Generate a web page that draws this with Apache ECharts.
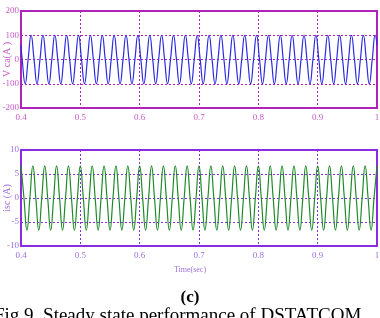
<!DOCTYPE html>
<html>
<head>
<meta charset="utf-8">
<script src="https://cdn.jsdelivr.net/npm/echarts@6/dist/echarts.min.js"></script>
<style>
  html, body { margin: 0; padding: 0; background: #fff; }
  #main { width: 380px; height: 318px; }
</style>
</head>
<body>
<div id="main"></div>
<script>
// 上图: V ca (A)，peaks / zero crossings (50 Hz)
const vaTime = [
  0.400,
  0.402, 0.407, 0.412, 0.417, 0.422, 0.427, 0.432, 0.437, 0.442, 0.447, 0.452, 0.457, 0.462, 0.467, 0.472, 0.477, 0.482, 0.487, 0.492, 0.497,
  0.502, 0.507, 0.512, 0.517, 0.522, 0.527, 0.532, 0.537, 0.542, 0.547, 0.552, 0.557, 0.562, 0.567, 0.572, 0.577, 0.582, 0.587, 0.592, 0.597,
  0.602, 0.607, 0.612, 0.617, 0.622, 0.627, 0.632, 0.637, 0.642, 0.647, 0.652, 0.657, 0.662, 0.667, 0.672, 0.677, 0.682, 0.687, 0.692, 0.697,
  0.702, 0.707, 0.712, 0.717, 0.722, 0.727, 0.732, 0.737, 0.742, 0.747, 0.752, 0.757, 0.762, 0.767, 0.772, 0.777, 0.782, 0.787, 0.792, 0.797,
  0.802, 0.807, 0.812, 0.817, 0.822, 0.827, 0.832, 0.837, 0.842, 0.847, 0.852, 0.857, 0.862, 0.867, 0.872, 0.877, 0.882, 0.887, 0.892, 0.897,
  0.902, 0.907, 0.912, 0.917, 0.922, 0.927, 0.932, 0.937, 0.942, 0.947, 0.952, 0.957, 0.962, 0.967, 0.972, 0.977, 0.982, 0.987, 0.992, 0.997,
  1.000
];
const vaValue = [
  59,
  0, -100, 0, 100, 0, -100, 0, 100, 0, -100, 0, 100, 0, -100, 0, 100, 0, -100, 0, 100,
  0, -100, 0, 100, 0, -100, 0, 100, 0, -100, 0, 100, 0, -100, 0, 100, 0, -100, 0, 100,
  0, -100, 0, 100, 0, -100, 0, 100, 0, -100, 0, 100, 0, -100, 0, 100, 0, -100, 0, 100,
  0, -100, 0, 100, 0, -100, 0, 100, 0, -100, 0, 100, 0, -100, 0, 100, 0, -100, 0, 100,
  0, -100, 0, 100, 0, -100, 0, 100, 0, -100, 0, 100, 0, -100, 0, 100, 0, -100, 0, 100,
  0, -100, 0, 100, 0, -100, 0, 100, 0, -100, 0, 100, 0, -100, 0, 100, 0, -100, 0, 100,
  59
];

// 下图: isc (A)
const iscTime = [
  0.400, 0.405, 0.410, 0.415, 0.420, 0.425, 0.430, 0.435, 0.440, 0.445, 0.450, 0.455, 0.460, 0.465, 0.470, 0.475, 0.480, 0.485, 0.490, 0.495,
  0.500, 0.505, 0.510, 0.515, 0.520, 0.525, 0.530, 0.535, 0.540, 0.545, 0.550, 0.555, 0.560, 0.565, 0.570, 0.575, 0.580, 0.585, 0.590, 0.595,
  0.600, 0.605, 0.610, 0.615, 0.620, 0.625, 0.630, 0.635, 0.640, 0.645, 0.650, 0.655, 0.660, 0.665, 0.670, 0.675, 0.680, 0.685, 0.690, 0.695,
  0.700, 0.705, 0.710, 0.715, 0.720, 0.725, 0.730, 0.735, 0.740, 0.745, 0.750, 0.755, 0.760, 0.765, 0.770, 0.775, 0.780, 0.785, 0.790, 0.795,
  0.800, 0.805, 0.810, 0.815, 0.820, 0.825, 0.830, 0.835, 0.840, 0.845, 0.850, 0.855, 0.860, 0.865, 0.870, 0.875, 0.880, 0.885, 0.890, 0.895,
  0.900, 0.905, 0.910, 0.915, 0.920, 0.925, 0.930, 0.935, 0.940, 0.945, 0.950, 0.955, 0.960, 0.965, 0.970, 0.975, 0.980, 0.985, 0.990, 0.995,
  1.000
];
const iscValue = [
  6.7, 0, -6.7, 0, 6.7, 0, -6.7, 0, 6.7, 0, -6.7, 0, 6.7, 0, -6.7, 0, 6.7, 0, -6.7, 0,
  6.7, 0, -6.7, 0, 6.7, 0, -6.7, 0, 6.7, 0, -6.7, 0, 6.7, 0, -6.7, 0, 6.7, 0, -6.7, 0,
  6.7, 0, -6.7, 0, 6.7, 0, -6.7, 0, 6.7, 0, -6.7, 0, 6.7, 0, -6.7, 0, 6.7, 0, -6.7, 0,
  6.7, 0, -6.7, 0, 6.7, 0, -6.7, 0, 6.7, 0, -6.7, 0, 6.7, 0, -6.7, 0, 6.7, 0, -6.7, 0,
  6.7, 0, -6.7, 0, 6.7, 0, -6.7, 0, 6.7, 0, -6.7, 0, 6.7, 0, -6.7, 0, 6.7, 0, -6.7, 0,
  6.7, 0, -6.7, 0, 6.7, 0, -6.7, 0, 6.7, 0, -6.7, 0, 6.7, 0, -6.7, 0, 6.7, 0, -6.7, 0,
  6.7
];

const topColor = "#b023b8",
  botColor = "#8a2be2",
  topLabel = "#c85ac8",
  botLabel = "#a070e0";

function pairs(t, v) {
  return t.map((x, i) => [x, v[i]]);
}

function xAx(idx, color, lab) {
  return {
    type: "value",
    gridIndex: idx,
    min: 0.4,
    max: 1,
    interval: 0.1,
    axisLine: { show: false },
    axisTick: { show: false },
    axisLabel: { color: lab, fontFamily: "Liberation Serif", fontSize: 9, margin: 5 },
    splitLine: { show: true, lineStyle: { color: color, type: [2, 2], width: 1 } },
  };
}
function yAx(idx, min, max, step, color, lab, name) {
  return {
    type: "value",
    gridIndex: idx,
    min: min,
    max: max,
    interval: step,
    name: name,
    nameLocation: "middle",
    nameGap: 9,
    nameMoveOverlap: false,
    nameTextStyle: { color: lab, fontFamily: "Liberation Sans Narrow", fontSize: 10 },
    axisLine: { show: false },
    axisTick: { show: false },
    axisLabel: { color: lab, fontFamily: "Liberation Serif", fontSize: 9, margin: 2 },
    splitLine: { show: true, lineStyle: { color: color, type: [2, 2], width: 1 } },
  };
}

var chart = echarts.init(document.getElementById("main"));
chart.setOption({
  backgroundColor: "#fff",
  animation: false,
  grid: [
    { left: 21, right: 3, top: 11, height: 97, show: true, borderColor: topColor, borderWidth: 2, backgroundColor: "#fff", containLabel: false, outerBoundsMode: "none" },
    { left: 21, right: 3, top: 150, height: 96, show: true, borderColor: botColor, borderWidth: 2, backgroundColor: "#fff", containLabel: false, outerBoundsMode: "none" },
  ],
  xAxis: [xAx(0, topColor, topLabel), xAx(1, botColor, botLabel)],
  yAxis: [
    yAx(0, -200, 200, 100, topColor, topLabel, "V ca(A )"),
    yAx(1, -10, 10, 5, botColor, botLabel, "isc (A)"),
  ],
  graphic: [
    { type: "text", left: "center", top: 266, style: { text: "Time(sec)", fill: botLabel, font: "8px 'Liberation Sans Narrow'" } },
    { type: "text", left: "center", top: 289, style: { text: "(c)", fill: "#000", font: "bold 17px 'Liberation Serif'" } },
    { type: "text", left: -6, top: 307, style: { text: "Fig 9. Steady state performance of DSTATCOM", fill: "#000", font: "19px 'Liberation Serif'" } },
  ],
  series: [
    {
      type: "line",
      xAxisIndex: 0,
      yAxisIndex: 0,
      data: pairs(vaTime, vaValue),
      smooth: 0.5,
      showSymbol: false,
      lineStyle: { color: "#2a2ae0", width: 1.2 },
    },
    {
      type: "line",
      xAxisIndex: 1,
      yAxisIndex: 1,
      data: pairs(iscTime, iscValue),
      smooth: 0.5,
      showSymbol: false,
      lineStyle: { color: "#1f8a2a", width: 1.2 },
    },
  ],
});
</script>
</body>
</html>
